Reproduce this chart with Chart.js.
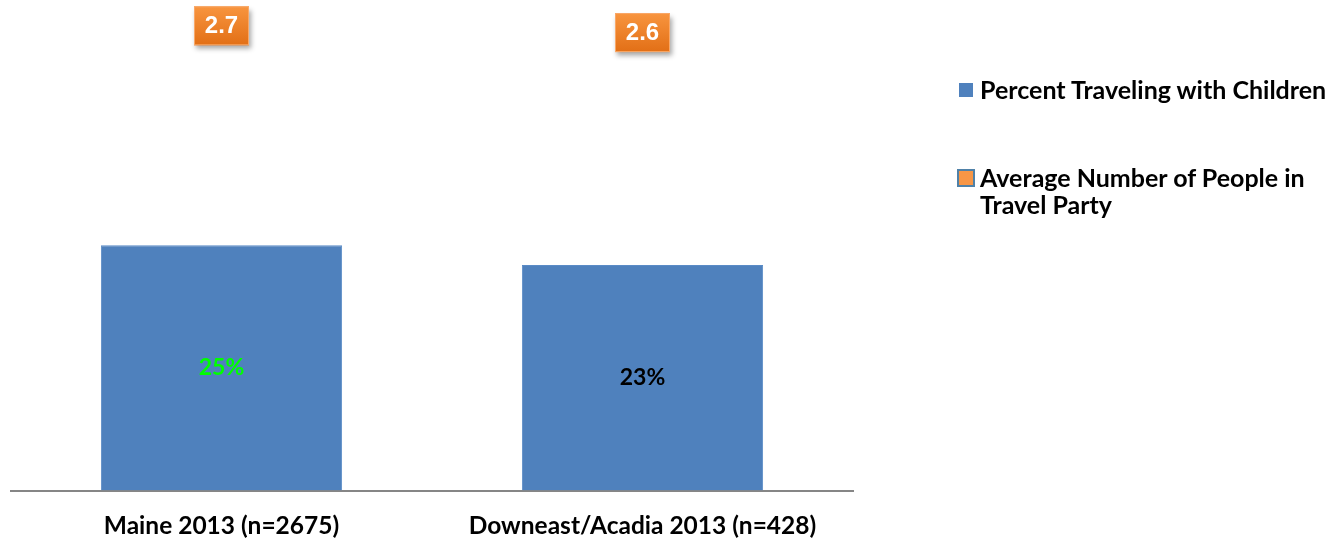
<!DOCTYPE html>
<html>
<head>
<meta charset="utf-8">
<script src="https://cdn.jsdelivr.net/npm/chart.js@4/dist/chart.umd.min.js"></script>
<style>
  body { margin: 0; background: #fff; }
  #wrap { position: relative; width: 1336px; height: 541px; }
  #legend { position: absolute; left: 957px; top: 0; font: bold 25px Lato, sans-serif; color: #000; }
  .item { position: absolute; left: 0; white-space: nowrap; line-height: 27px; }
  .item .box { position: absolute; box-sizing: border-box; }
  .item .txt { position: absolute; left: 23px; top: 0; }
</style>
</head>
<body>
<div id="wrap">
  <canvas id="chart" width="1336" height="541"></canvas>
  <div id="legend"></div>
</div>
<script>
// categories and values
const categories = ['Maine 2013 (n=2675)', 'Downeast/Acadia 2013 (n=428)'];
const pctWithChildren = [25, 23];
const avgPartySize = [2.7, 2.6];
const seriesNames = ['Percent Traveling with Children', ['Average Number of People in', 'Travel Party']];

const blue = '#4F81BD';
const orange = '#F79646';
const barLabelColors = ['#00FF00', '#000000'];

// value labels: centred in the bars, orange boxes for the party size
const valueLabels = {
  id: 'valueLabels',
  afterDatasetsDraw(chart) {
    const ctx = chart.ctx;
    ctx.save();
    ctx.textAlign = 'center';
    ctx.textBaseline = 'middle';

    chart.getDatasetMeta(0).data.forEach((bar, i) => {
      ctx.font = 'bold 23px Lato, sans-serif';
      ctx.fillStyle = barLabelColors[i];
      ctx.fillText(pctWithChildren[i] + '%', bar.x, (bar.y + bar.base) / 2);
    });

    chart.getDatasetMeta(1).data.forEach((pt, i) => {
      const w = 55, h = 39;
      const x = pt.x - w / 2, y = pt.y - h / 2;
      ctx.save();
      ctx.shadowColor = 'rgba(0,0,0,0.35)';
      ctx.shadowBlur = 5;
      ctx.shadowOffsetX = 2;
      ctx.shadowOffsetY = 4;
      const g = ctx.createLinearGradient(0, y, 0, y + h);
      g.addColorStop(0, '#F8953F');
      g.addColorStop(1, '#E26F16');
      ctx.fillStyle = g;
      ctx.fillRect(x, y, w, h);
      ctx.restore();
      ctx.strokeStyle = '#F9A868';
      ctx.lineWidth = 1;
      ctx.strokeRect(x + 0.5, y + 0.5, w - 1, h - 1);
      ctx.font = 'bold 24px "Liberation Sans", Arial, sans-serif';
      ctx.fillStyle = '#fff';
      ctx.fillText(avgPartySize[i].toFixed(1), pt.x, pt.y + 1);
    });
    ctx.restore();
  }
};

const chart = new Chart(document.getElementById('chart'), {
  data: {
    labels: categories,
    datasets: [{
      type: 'bar',
      label: seriesNames[0],
      data: pctWithChildren,
      backgroundColor: blue,
      borderColor: '#5A8BC6',
      borderWidth: 1,
      categoryPercentage: 1,
      barPercentage: 0.573,
      yAxisID: 'y'
    }, {
      type: 'line',
      label: seriesNames[1],
      data: avgPartySize,
      showLine: false,
      pointRadius: 0,
      backgroundColor: orange,
      yAxisID: 'y2'
    }]
  },
  options: {
    responsive: false,
    animation: false,
    layout: { padding: { left: 11, right: 483, top: 0, bottom: 0 } },
    plugins: { legend: { display: false }, tooltip: { enabled: false } },
    scales: {
      x: {
        // tick marks are hidden, tickLength only spaces the labels from the axis line
        grid: { display: false, tickLength: 21 },
        border: { display: true, color: '#868686', width: 2 },
        ticks: { color: '#000', padding: 0, font: { family: 'Lato', weight: 'bold', size: 24.5 } }
      },
      y: { display: false, min: 0, max: 50 },
      y2: { display: false, min: -4.15, max: 3.08 }
    }
  },
  plugins: [valueLabels]
});

// legend built from the datasets
const legend = document.getElementById('legend');
const tops = [76, 164];
chart.data.datasets.forEach((ds, i) => {
  const item = document.createElement('div');
  item.className = 'item';
  item.style.top = tops[i] + 'px';
  const box = document.createElement('span');
  box.className = 'box';
  if (i === 0) {
    Object.assign(box.style, { left: '2px', top: '7px', width: '14px', height: '14px', background: blue });
  } else {
    Object.assign(box.style, { left: '0px', top: '5px', width: '18px', height: '18px', background: orange, border: '2px solid #4F81A8' });
  }
  const txt = document.createElement('span');
  txt.className = 'txt';
  txt.innerHTML = [].concat(ds.label).join('<br>');
  item.append(box, txt);
  legend.append(item);
});
</script>
</body>
</html>
